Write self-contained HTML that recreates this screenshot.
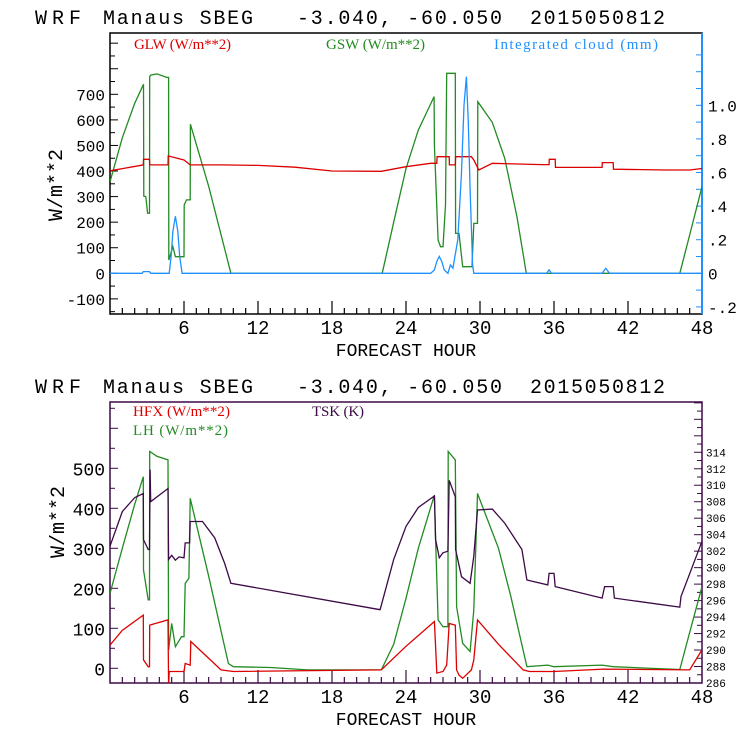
<!DOCTYPE html>
<html><head><meta charset="utf-8"><style>
body{margin:0;background:#fff}
svg{display:block}
text{font-family:"Liberation Mono",monospace}
.lg{font-family:"Liberation Serif",serif;font-size:15px}
</style></head><body>
<svg id="c" width="740" height="740" viewBox="0 0 740 740" xmlns="http://www.w3.org/2000/svg"></svg>
<script>
// ---------- data (hour, value) ----------
const glwHours=[0,2.7,2.72,3.2,3.22,4.7,4.72,6,6.5,9,12,15,18,22,24,26,26.5,26.52,27.5,27.52,28,28.02,29.3,29.5,29.9,31,35,35.6,35.62,36.1,36.12,39.9,39.92,40.8,40.82,45,47,48];
const glwVals=[401,424,446,446,424,424,459,443,424,424,422,415,400,399,417,430,430,456,456,424,424,456,456,443,404,430,425,425,446,446,414,414,433,433,407,404,404,410];
const gswHours=[0,1,2,2.72,2.74,2.9,3.05,3.2,3.22,3.3,3.8,4.6,4.75,4.77,5.1,5.3,5.7,6.0,6.02,6.2,6.5,6.52,8,9.8,22.07,23,24,25,26.28,26.3,26.6,26.8,27.0,27.2,27.3,28.0,28.02,28.3,28.6,29.35,29.5,29.8,29.82,31,32,33,33.75,46.2,47,48];
const gswVals=[358,530,665,739,302,300,235,235,769,775,780,766,766,52,104,65,65,65,267,287,287,583,340,0,0,200,410,560,691,502,130,104,104,267,782,782,156,156,26,26,195,195,671,590,450,220,0,0,150,339];
const cldHours=[0,2.6,2.7,3.2,3.3,4.8,4.95,5.1,5.3,5.5,5.65,5.85,26,26.3,26.5,26.7,26.9,27.1,27.4,27.6,27.8,28.2,28.5,28.7,28.9,29.05,29.2,29.4,29.5,29.6,35.4,35.6,35.8,39.9,40.2,40.5,48];
const cldVals=[0,0,0.01,0.01,0,0,0.1,0.25,0.34,0.25,0.1,0,0,0.02,0.07,0.1,0.07,0.02,0,0.05,0.03,0.2,0.6,1.0,1.17,0.9,0.5,0.05,0,0,0,0.02,0,0,0.03,0,0];
const tskHours=[0,1,2,2.7,2.72,3.1,3.2,3.25,3.3,4.7,4.75,5.0,5.3,5.6,6.0,6.1,6.45,6.5,7.5,8.5,9.3,9.8,21.9,23,24,25,26.3,26.4,26.7,27.0,27.4,27.5,28.0,28.02,28.5,29.2,29.5,29.8,31,32,33.4,33.8,35.5,35.6,36.0,36.1,39.9,40.1,40.8,40.9,46.2,46.3,48];
const tskVals=[302.6,306.8,308.5,309.0,303.4,302.2,302.2,311.9,308.0,309.6,301.0,301.5,300.9,301.3,301.2,303.0,303.0,305.6,305.6,303.6,300.5,298.1,294.9,301,305,307.3,308.7,303.4,301.2,301.8,302.0,310.6,308.6,302.2,298.9,298.1,301.4,307.0,307.1,305.4,302.2,298.5,297.9,299.3,299.3,297.7,296.3,297.7,297.7,296.3,295.2,296.5,303.2];
const hfxHours=[0,1,2.7,2.72,3.1,3.2,3.22,4.7,4.75,4.8,6.0,6.1,6.5,6.55,9,10,22,24,26.3,26.4,26.5,27.0,27.3,27.5,28.0,28.1,28.3,28.6,29.3,29.5,29.8,31.5,33.5,34,36,40,47,48];
const hfxVals=[58,95,133,21,4,4,108,121,-45,-8,-8,12,8,67,-4,-8,-4,55,117,54,-12,-8,8,112,108,-4,-17,-25,-4,21,121,60,-4,-8,-8,-2,-4,46];
const lhHours=[0,1,2,2.7,2.72,3.1,3.2,3.22,3.8,4.7,4.75,5.0,5.3,5.8,6.0,6.1,6.4,6.5,8,9.6,10,13,16,22,23,24,25,26.3,26.4,26.6,27.0,27.4,27.42,28.0,28.1,28.6,29.2,29.5,29.8,31.5,32.5,33.8,35.5,36.0,39.9,40.8,46.2,47,48];
const lhVals=[187,300,410,479,246,171,171,542,530,521,46,112,54,79,79,212,225,425,230,12,4,2,-4,-4,60,175,300,433,321,121,104,104,542,521,154,62,42,146,437,300,180,4,8,4,8,4,-3,90,204];
const xTicks=[6,12,18,24,30,36,42,48];
const topLeftTicks=[700,600,500,400,300,200,100,0,-100];
const topRightTicks=[1.0,0.8,0.6,0.4,0.2,0,-0.2];
const topRightLabels=["1.0",".8",".6",".4",".2","0","-.2"];
const botLeftTicks=[500,400,300,200,100,0];
const botRightTicks=[314,312,310,308,306,304,302,300,298,296,294,292,290,288,286];

// ---------- setup ----------
const NS="http://www.w3.org/2000/svg";
const svg=document.getElementById('c');
function mk(tag,attrs,parent){const e=document.createElementNS(NS,tag);for(const k in attrs)e.setAttribute(k,attrs[k]);(parent||svg).appendChild(e);return e;}
const X0=110,X1=702;
const xs=h=>X0+(h/48)*(X1-X0);
const RED="#dd0000",GRN="#228b22",BLU="#1e90ff",PUR="#3c0a46";

function title(y){
  const parts=[[35,"WRF",46],[103,"Manaus SBEG",150],[297,"-3.040, -60.050",205],[530,"2015050812",135]];
  parts.forEach(p=>{
    const t=mk('text',{x:p[0],y:y,'font-size':20,textLength:p[2],fill:'#000'});
    
    
    t.textContent=p[1];
  });
}
function xAxis(yb,color){
  for(let h=1;h<48;h++){
    const big=h%6===0;
    const l=mk('line',{x1:xs(h),x2:xs(h),y1:yb,y2:yb-(big?13:6),stroke:color,'stroke-width':1.2});
    
    
  }
  xTicks.forEach(h=>{
    const t=mk('text',{x:xs(h),y:yb+20,'font-size':19,'text-anchor':'middle',fill:'#000'});
    
    
    t.textContent=h;
  });
  const t=mk('text',{x:406,y:yb+42,'font-size':18,'text-anchor':'middle',fill:'#000'});
  
  
  t.textContent="FORECAST HOUR";
}
function series(hours,vals,ys,color,name,clip){
  let d='';
  hours.forEach((h,i)=>{d+=(i?'L':'M')+xs(h).toFixed(1)+','+ys(vals[i]).toFixed(1);});
  const p=mk('path',{d:d,fill:'none',stroke:color,'stroke-width':1.3,'clip-path':'url(#'+clip+')'});
  
  
}
function yTitle(cx,cy){
  const t=mk('text',{x:cx,y:cy,'font-size':20,'text-anchor':'middle',fill:'#000',transform:'rotate(-90 '+cx+' '+cy+')'});
  
  
  t.textContent="W/m**2";
}
function legend(x,y,txt,color,name,w){
  const t=mk('text',{x:x,y:y,fill:color,class:'lg',textLength:w});
  
  
  t.textContent=txt;
}

// ---------- top chart ----------
const T0=33,T1=314;
const ysT=v=>273.3-v*0.2557;
const ysC=v=>273.3-v*168;
const defs=mk('defs',{});
const c1=mk('clipPath',{id:'clipTop'},defs);mk('rect',{x:X0,y:T0,width:X1-X0,height:T1-T0},c1);
const c2=mk('clipPath',{id:'clipBot'},defs);mk('rect',{x:X0,y:402,width:X1-X0,height:281},c2);
title(24);
const r1=mk('rect',{x:X0,y:T0,width:X1-X0,height:T1-T0,fill:'none',stroke:'#000','stroke-width':1.5});


const rb=mk('line',{x1:X1,x2:X1,y1:T0,y2:T1,stroke:BLU,'stroke-width':2});


for(let v=-150;v<=1000;v+=50){const y=ysT(v);if(y<T0||y>T1)continue;
  const l=mk('line',{x1:X0,x2:X0+(v%100===0?8:5),y1:y,y2:y,stroke:'#000'});
  
  }
for(let v=-0.2;v<=1.4;v+=0.1){const y=ysC(v);if(y<T0||y>T1)continue;
  const l=mk('line',{x1:X1,x2:X1-6,y1:y,y2:y,stroke:BLU});
  
  }
topLeftTicks.forEach(v=>{
  const t=mk('text',{x:105,y:ysT(v)+6,'font-size':16,'text-anchor':'end',fill:'#000'});
  
  
  t.textContent=v;});
topRightTicks.forEach((v,i)=>{
  const t=mk('text',{x:708,y:ysC(v)+6,'font-size':16,fill:'#000'});
  
  
  t.textContent=topRightLabels[i];});
xAxis(T1,'#000');
yTitle(62,185);
series(gswHours,gswVals,ysT,GRN,'gsw-line','clipTop');
series(glwHours,glwVals,ysT,RED,'glw-line','clipTop');
series(cldHours,cldVals,ysC,BLU,'cloud-line','clipTop');
legend(134,49,"GLW (W/m**2)",RED,'legend-glw',97);
legend(326,49,"GSW (W/m**2)",GRN,'legend-gsw',99);
legend(494,49,"Integrated cloud (mm)",BLU,'legend-cloud',164);

// ---------- bottom chart ----------
const B0=402,B1=683;
const ysB=v=>668.3-v*0.4;
const ysK=v=>683-(v-286)*8.24;
title(393);
const r2=mk('rect',{x:X0,y:B0,width:X1-X0,height:B1-B0,fill:'none',stroke:PUR,'stroke-width':1.5});


for(let v=-50;v<=750;v+=50){const y=ysB(v);if(y<B0||y>B1)continue;
  const l=mk('line',{x1:X0,x2:X0+(v%100===0?8:5),y1:y,y2:y,stroke:PUR});
  
  }
for(let v=286;v<=320;v+=1){const y=ysK(v);if(y<B0||y>B1)continue;
  const l=mk('line',{x1:X1,x2:X1-(v%2===0?8:5),y1:y,y2:y,stroke:PUR});
  
  }
botLeftTicks.forEach(v=>{
  const t=mk('text',{x:105,y:ysB(v)+7,'font-size':18,'text-anchor':'end',fill:'#000'});
  
  
  t.textContent=v;});
botRightTicks.forEach(v=>{
  const t=mk('text',{x:706,y:ysK(v)+4,'font-size':11,fill:'#000'});
  
  
  t.textContent=v;});
xAxis(B1,PUR);
yTitle(64,522);
series(lhHours,lhVals,ysB,GRN,'lh-line','clipBot');
series(tskHours,tskVals,ysK,PUR,'tsk-line','clipBot');
series(hfxHours,hfxVals,ysB,RED,'hfx-line','clipBot');
legend(133,416,"HFX (W/m**2)",RED,'legend-hfx',97);
legend(133,435,"LH  (W/m**2)",GRN,'legend-lh',95);
legend(312,416,"TSK (K)",PUR,'legend-tsk',52);
</script>
</body></html>
